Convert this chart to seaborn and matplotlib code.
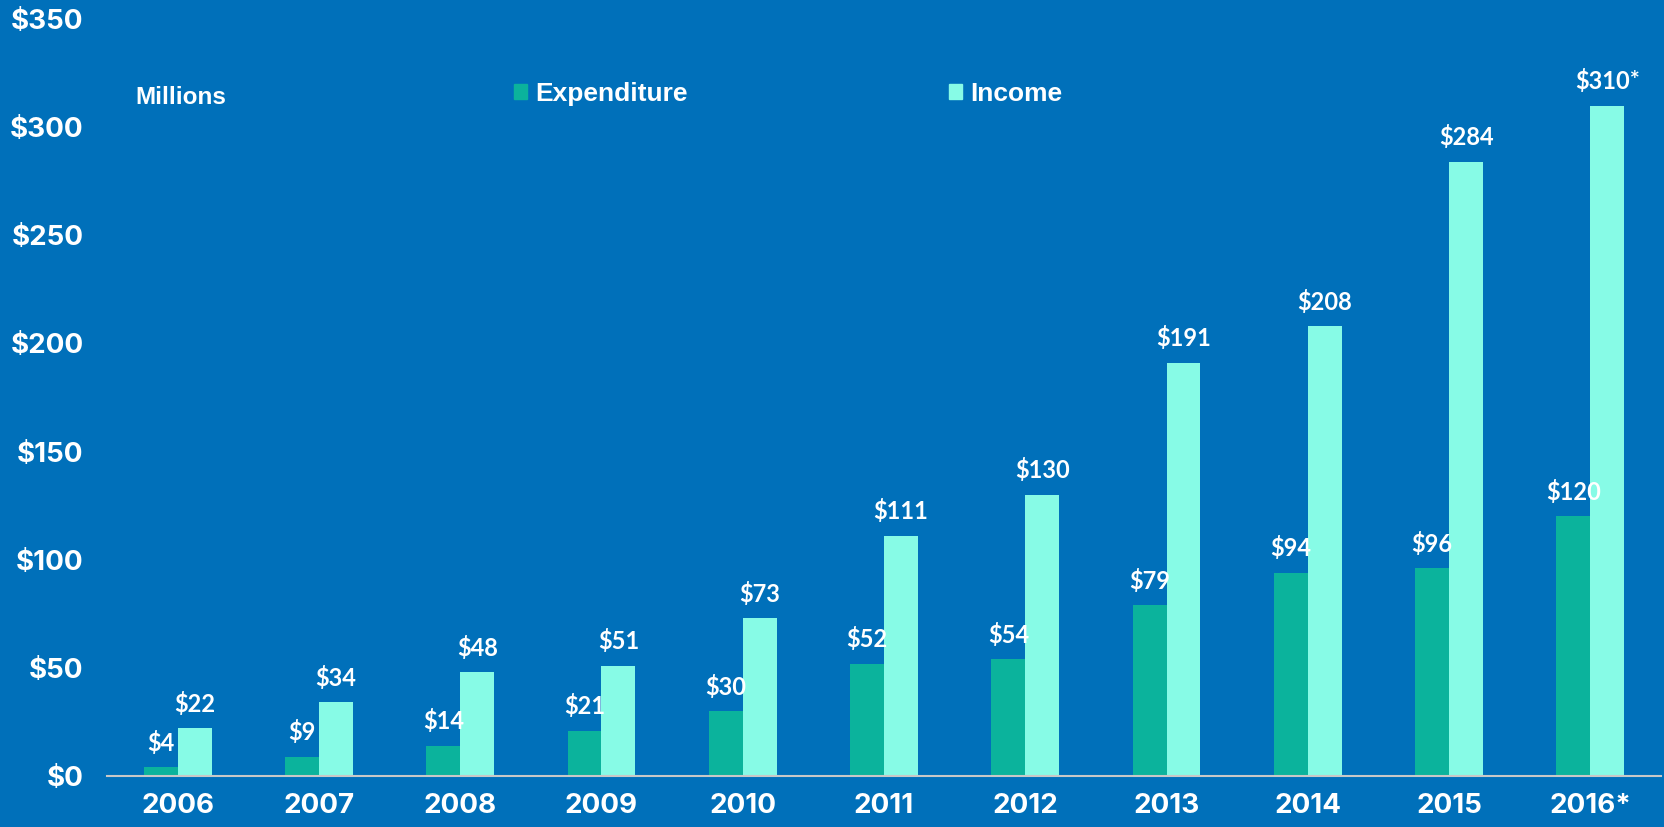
import pandas as pd
import matplotlib.pyplot as plt
import seaborn as sns

# Datos (millones de dólares)
years = ["2006", "2007", "2008", "2009", "2010", "2011", "2012", "2013", "2014", "2015", "2016*"]
expenditure = [4, 9, 14, 21, 30, 52, 54, 79, 94, 96, 120]
income = [22, 34, 48, 51, 73, 111, 130, 191, 208, 284, 310]
income_labels = ["$22", "$34", "$48", "$51", "$73", "$111", "$130", "$191", "$208", "$284", "$310*"]
yticks = [0, 50, 100, 150, 200, 250, 300, 350]

bg = "#0070BA"
c_exp = "#0BB39C"
c_inc = "#87FBE6"

sns.set_style("white")

df = pd.DataFrame({
    "year": years * 2,
    "value": expenditure + income,
    "serie": ["Expenditure"] * len(years) + ["Income"] * len(years),
})

fig = plt.figure(figsize=(16.65, 8.27), dpi=100, facecolor=bg)
ax = fig.add_axes([0.0643, 0.0617, 0.9333, 0.9153])
ax.set_facecolor(bg)

sns.barplot(data=df, x="year", y="value", hue="serie", palette=[c_exp, c_inc],
            width=0.48, saturation=1, linewidth=0, ax=ax, legend=False)

ax.set_xlim(-0.5, 10.5)
ax.set_ylim(0, 350)
ax.set_yticks(yticks)
ax.set_yticklabels([f"${v}" for v in yticks])
ax.set_xlabel("")
ax.set_ylabel("")

for s in ["top", "right", "left"]:
    ax.spines[s].set_visible(False)
ax.spines["bottom"].set_color("#C8C8C8")
ax.spines["bottom"].set_linewidth(1.5)

ax.tick_params(axis="both", length=0, colors="white")
ax.tick_params(axis="y", pad=17)
ax.tick_params(axis="x", pad=12)
for lab in ax.get_xticklabels() + ax.get_yticklabels():
    lab.set_fontfamily("Inter")
    lab.set_fontweight("bold")
    lab.set_fontsize(20)

# etiquetas de valores
ax.bar_label(ax.containers[0], labels=[f"${v}" for v in expenditure], padding=9,
             color="white", fontsize=17, fontweight="bold", fontfamily="Lato")
ax.bar_label(ax.containers[1], labels=income_labels, padding=9,
             color="white", fontsize=17, fontweight="bold", fontfamily="Lato")

fig.text(135 / 1665, 1 - 97 / 827, "Millions", color="white", fontsize=17.5,
         fontweight="bold", fontfamily="Liberation Sans", va="center", ha="left")

handles = [plt.Rectangle((0, 0), 1, 1, color=c_exp), plt.Rectangle((0, 0), 1, 1, color=c_inc)]
leg = fig.legend(handles, ["Expenditure", "Income"], ncol=2, frameon=False,
                 loc="center left", bbox_to_anchor=(514 / 1665, 1 - 94 / 827),
                 handlelength=0.5, handleheight=0.5, handletextpad=0.3,
                 columnspacing=9.9, borderaxespad=0, borderpad=0,
                 prop={"family": "Liberation Sans", "weight": "bold", "size": 19})
for t in leg.get_texts():
    t.set_color("white")

fig.savefig("out.png", dpi=100, facecolor=bg)
